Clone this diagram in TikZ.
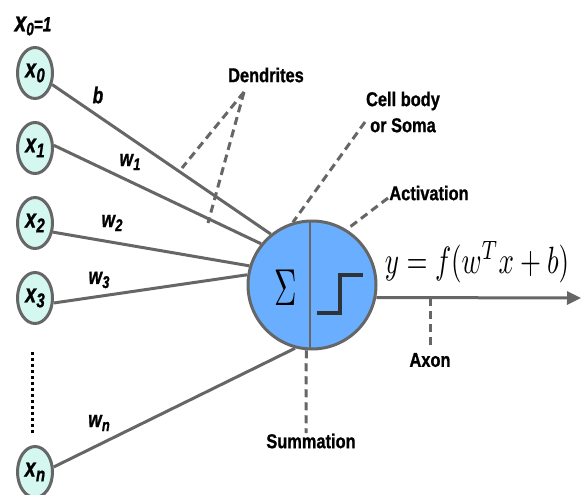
\documentclass[tikz,border=0pt]{standalone}
\usepackage{fontspec}
\usetikzlibrary{shapes.geometric,arrows.meta}
\newfontfamily\labfont[FakeStretch=0.82,FakeBold=1]{Liberation Sans}
\newfontfamily\ilabfont[FakeStretch=0.75,FakeBold=1]{Liberation Sans}
\definecolor{lgray}{HTML}{666666}
\definecolor{somablue}{HTML}{6AAFFF}
\definecolor{inputfill}{HTML}{D4F7F0}
\definecolor{stepdark}{HTML}{2E3338}
\newcommand{\inlab}[1]{{\ilabfont\bfseries\itshape{\fontsize{26}{26}\selectfont x}\kern0.3pt\raisebox{-5pt}{\fontsize{20}{20}\selectfont #1}}}
\newcommand{\wlab}[1]{{\ilabfont\bfseries\itshape{\fontsize{23}{23}\selectfont w}\kern0.3pt\raisebox{-4pt}{\fontsize{17}{17}\selectfont #1}}}
\tikzset{
  inputnode/.style={ellipse, draw=lgray, line width=3pt, fill=inputfill,
    minimum width=35pt, minimum height=51pt, inner sep=0pt},
  conn/.style={draw=lgray, line width=3pt},
  dashconn/.style={draw=lgray, line width=3pt, dash pattern=on 8pt off 5pt},
  annot/.style={font=\labfont\bfseries\fontsize{20}{26}\selectfont, inner sep=0pt, align=center},
  wnode/.style={inner sep=0pt},
}
\begin{document}
\begin{tikzpicture}[x=1pt,y=-1pt]
\useasboundingbox (0,0) rectangle (581,495);
% inputs
\node[inputnode] (x0) at (35,73) {\inlab{0}};
\node[inputnode] (x1) at (35,148) {\inlab{1}};
\node[inputnode] (x2) at (35,223) {\inlab{2}};
\node[inputnode] (x3) at (35,298) {\inlab{3}};
\node[inputnode] (xn) at (35,472) {\inlab{n}};
\node[inner sep=0pt] (top) at (33,26) {\ilabfont\bfseries\itshape{\fontsize{28}{28}\selectfont x}\raisebox{-4pt}{\fontsize{18}{18}\selectfont 0}{\fontsize{20.5}{20.5}\selectfont =1}};
% dots
\coordinate (dtop) at (32,352);
\coordinate (dbot) at (32,433);
\draw[draw=black, line width=3pt, dash pattern=on 3pt off 3pt] (dtop) -- (dbot);
% soma
\node[circle, draw=lgray, line width=3pt, fill=somablue, minimum size=128pt, inner sep=0pt] (s) at (312,285) {};
\draw[draw=lgray, line width=2.2pt] (s.92) -- (s.268);
\node[inner sep=0pt] (sig) at (285.5,287.5) {\scalebox{3.1}[5.2]{$\Sigma$}};
\coordinate (st1) at (317,313);
\coordinate (st2) at (340,313);
\coordinate (st3) at (340,275);
\coordinate (st4) at (363,275);
\draw[draw=stepdark, line width=3.5pt, line join=miter] (st1) -- (st2) -- (st3) -- (st4);
% connections
\draw[conn] (x0.-34) -- (s.129);
\draw[conn] (x1.8) -- (s.141);
\draw[conn] (x2.-27) -- (s.163);
\draw[conn] (x3.-15) -- (s.171);
\draw[conn] (xn.15) -- (s.255);
% weights
\node[wnode] (b) at (98,95) {\ilabfont\bfseries\itshape\fontsize{23}{23}\selectfont b};
\node[wnode] (w1) at (130,162) {\wlab{1}};
\node[wnode] (w2) at (112,223) {\wlab{2}};
\node[wnode] (w3) at (99,280) {\wlab{3}};
\node[wnode] (wn) at (99,423) {\wlab{n}};
% axon
\coordinate (aend) at (581,298);
\draw[conn, -{Triangle[length=14pt,width=13pt]}] (s.-11) -- (aend);
\node[inner sep=0pt, anchor=base] (eq) at (477,273) {\scalebox{2.7}[3.8]{$y = f(w^T x + b)$}};
% annotations
\node[annot] (dend) at (266,75) {Dendrites};
\coordinate (dtip) at (244,92);
\coordinate (dend1) at (182,168);
\coordinate (dend2) at (208,223);
\draw[dashconn] (dtip) -- (dend1);
\draw[dashconn] (dtip) -- (dend2);
\node[annot] (cell) at (403,112) {Cell body\\or Soma};
\coordinate (cellp) at (365,122);
\draw[dashconn] (cellp) -- (s.107);
\node[annot] (act) at (429,193) {Activation};
\coordinate (actp) at (388,198);
\draw[dashconn] (actp) -- (s.58);
\coordinate (axt) at (430,298);
\coordinate (axb) at (430,347);
\draw[dashconn] (axt) -- (axb);
\node[annot] (axon) at (430,360) {Axon};
\coordinate (sumb) at (306,433);
\draw[dashconn] (s.265) -- (sumb);
\node[annot] (sum) at (311,441) {Summation};
\end{tikzpicture}
\end{document}
